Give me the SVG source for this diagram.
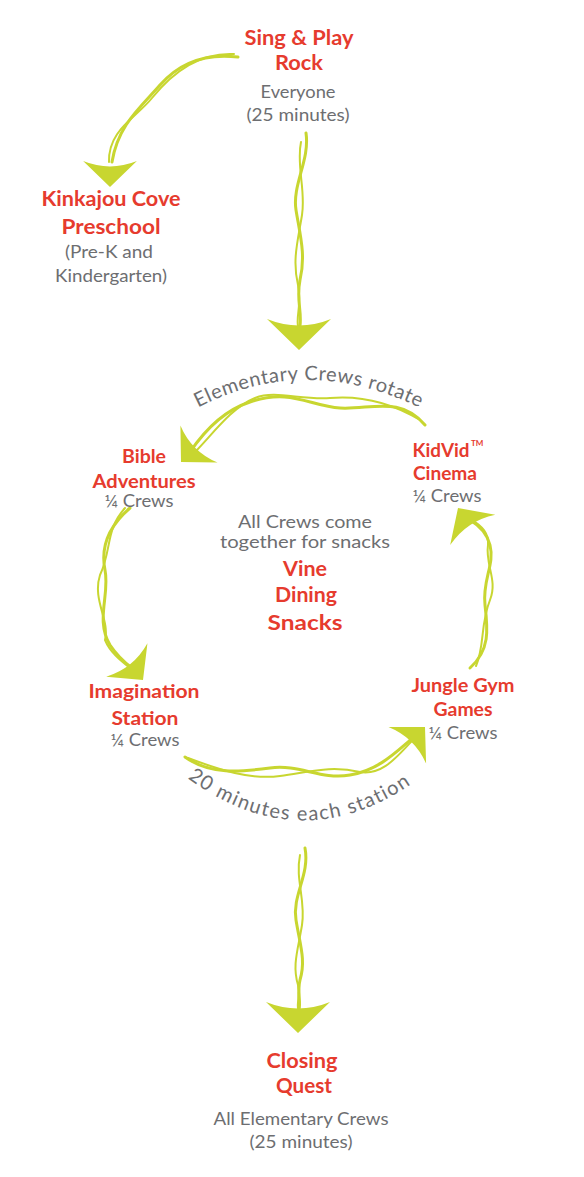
<svg xmlns="http://www.w3.org/2000/svg" xmlns:xlink="http://www.w3.org/1999/xlink" width="584" height="1177" viewBox="0 0 584 1177">
<style>
.t{font-family:"Lato","Open Sans","Liberation Sans",sans-serif;font-weight:700;fill:#e63b2e;font-size:21px;text-anchor:middle}
.m{font-size:19px}
.s{font-family:"Lato","Open Sans","Liberation Sans",sans-serif;font-weight:400;fill:#6d6e71;font-size:17px;text-anchor:middle}
.c{font-family:"Lato","Open Sans","Liberation Sans",sans-serif;font-weight:400;fill:#6d6e71;font-size:20px;letter-spacing:0.6px}
.cb{letter-spacing:1.4px}
.v{fill:none;stroke:#c8d630;stroke-width:3;stroke-linecap:round}
.v2{fill:none;stroke:#c8d630;stroke-width:2;stroke-linecap:round}
.h{fill:#c8d630}
</style>
<defs>
<path id="ah" d="M0,0 L-32,-31 Q0,-18 32,-31 Z"/>
<path id="arcTop" d="M186,414 Q305,346 432,414"/>
<path id="arcBot" d="M172,766 Q300,872 428,772"/>
</defs>
<g id="connectors">
<g id="c1">
<path class="v" d="M238,57 C205,53 180,62 160,85 C140,108 118,125 112,162"/>
<path class="v2" d="M234,54 C195,52 168,78 152,98 C136,118 108,130 109,162"/>
<use href="#ah" class="h" transform="translate(110,187) scale(0.84)"/>
</g>
<g id="c2">
<path class="v" d="M306,133 C310,160 292,185 296,210 C300,235 306,255 300,280 C296,300 302,310 300,326"/>
<path class="v2" d="M301,142 C296,165 306,190 302,215 C298,240 292,260 298,285 C302,305 296,315 298,326"/>
<use href="#ah" class="h" transform="translate(299,350)"/>
</g>
<g id="c3">
<path class="v" d="M425,425 C400,395 370,410 340,408 C310,406 290,388 250,402 C225,410 205,430 190,452"/>
<path class="v2" d="M420,420 C395,405 365,395 330,398 C300,400 275,390 255,398 C230,408 210,438 192,455"/>
<use href="#ah" class="h" transform="translate(181,462) rotate(45) scale(0.82)"/>
</g>
<g id="c4">
<path class="v" d="M130,508 C110,525 100,545 105,570 C110,595 95,620 110,645 C118,657 124,662 132,668"/>
<path class="v2" d="M125,508 C105,530 112,550 100,575 C92,600 110,620 105,640 C110,652 120,660 130,668"/>
<use href="#ah" class="h" transform="translate(143,680) rotate(-39) scale(0.83)"/>
</g>
<g id="c5">
<path class="v" d="M185,757 C210,775 240,772 270,768 C300,764 320,780 350,775 C380,770 398,750 414,737"/>
<path class="v2" d="M188,758 C220,770 250,780 280,776 C310,772 330,765 360,772 C385,776 400,752 415,738"/>
<use href="#ah" class="h" transform="translate(425,727) rotate(-135.8) scale(0.82)"/>
</g>
<g id="c6">
<path class="v" d="M470,668 C490,650 488,630 485,605 C482,580 495,565 490,545 C487,533 480,526 470,520"/>
<path class="v2" d="M476,666 C485,645 480,625 490,600 C498,580 485,565 488,545 C489,533 482,526 472,520"/>
<use href="#ah" class="h" transform="translate(458,508) rotate(146) scale(0.85)"/>
</g>
<g id="c7">
<path class="v" d="M305,848 C310,875 292,895 296,920 C300,945 306,960 300,980 C297,993 301,1000 299,1010"/>
<path class="v2" d="M300,855 C295,880 306,900 302,925 C298,950 292,965 298,985 C300,995 297,1000 298,1010"/>
<use href="#ah" class="h" transform="translate(298,1033)"/>
</g>
</g>
<g id="label-rotate">
<text class="c"><textPath href="#arcTop" startOffset="50%" text-anchor="middle">Elementary Crews rotate</textPath></text>
</g>
<g id="label-20min">
<text class="c cb"><textPath href="#arcBot" startOffset="50%" text-anchor="middle">20 minutes each station</textPath></text>
</g>
<g id="sing-play">
<text class="t" x="299" y="45" textLength="109" lengthAdjust="spacingAndGlyphs">Sing &amp; Play</text>
<text class="t" x="299" y="70" textLength="48" lengthAdjust="spacingAndGlyphs">Rock</text>
<text class="s" x="298" y="98" textLength="75" lengthAdjust="spacingAndGlyphs">Everyone</text>
<text class="s" x="298" y="121" textLength="103" lengthAdjust="spacingAndGlyphs">(25 minutes)</text>
</g>
<g id="kinkajou">
<text class="t" x="111" y="206" textLength="139" lengthAdjust="spacingAndGlyphs">Kinkajou Cove</text>
<text class="t" x="111" y="234" textLength="99" lengthAdjust="spacingAndGlyphs">Preschool</text>
<text class="s" x="109" y="258" textLength="88" lengthAdjust="spacingAndGlyphs">(Pre-K and</text>
<text class="s" x="111" y="282" textLength="112" lengthAdjust="spacingAndGlyphs">Kindergarten)</text>
</g>
<g id="bible">
<text class="t m" x="144" y="463" textLength="44" lengthAdjust="spacingAndGlyphs">Bible</text>
<text class="t m" x="144" y="488" textLength="103" lengthAdjust="spacingAndGlyphs">Adventures</text>
<text class="s" x="139" y="507" textLength="69" lengthAdjust="spacingAndGlyphs">¼ Crews</text>
</g>
<g id="kidvid">
<text class="t m" x="441" y="457" textLength="57" lengthAdjust="spacingAndGlyphs">KidVid</text>
<text class="t" x="471" y="446" style="font-size:8px;text-anchor:start">TM</text>
<text class="t m" x="445" y="480" textLength="64" lengthAdjust="spacingAndGlyphs">Cinema</text>
<text class="s" x="447" y="502" textLength="69" lengthAdjust="spacingAndGlyphs">¼ Crews</text>
</g>
<g id="vine">
<text class="s" x="305" y="528" textLength="134" lengthAdjust="spacingAndGlyphs">All Crews come</text>
<text class="s" x="305" y="548" textLength="170" lengthAdjust="spacingAndGlyphs">together for snacks</text>
<text class="t" x="305" y="576" textLength="44" lengthAdjust="spacingAndGlyphs">Vine</text>
<text class="t" x="306" y="602" textLength="62" lengthAdjust="spacingAndGlyphs">Dining</text>
<text class="t" x="305" y="630" textLength="75" lengthAdjust="spacingAndGlyphs">Snacks</text>
</g>
<g id="imagination">
<text class="t m" x="144" y="698" textLength="111" lengthAdjust="spacingAndGlyphs">Imagination</text>
<text class="t m" x="145" y="725" textLength="67" lengthAdjust="spacingAndGlyphs">Station</text>
<text class="s" x="145" y="746" textLength="69" lengthAdjust="spacingAndGlyphs">¼ Crews</text>
</g>
<g id="jungle">
<text class="t m" x="463" y="692" textLength="103" lengthAdjust="spacingAndGlyphs">Jungle Gym</text>
<text class="t m" x="463" y="716" textLength="59" lengthAdjust="spacingAndGlyphs">Games</text>
<text class="s" x="463" y="739" textLength="69" lengthAdjust="spacingAndGlyphs">¼ Crews</text>
</g>
<g id="closing">
<text class="t" x="302" y="1068" textLength="71" lengthAdjust="spacingAndGlyphs">Closing</text>
<text class="t" x="304" y="1093" textLength="56" lengthAdjust="spacingAndGlyphs">Quest</text>
<text class="s" x="301" y="1125" textLength="175" lengthAdjust="spacingAndGlyphs">All Elementary Crews</text>
<text class="s" x="301" y="1148" textLength="103" lengthAdjust="spacingAndGlyphs">(25 minutes)</text>
</g>
</svg>
